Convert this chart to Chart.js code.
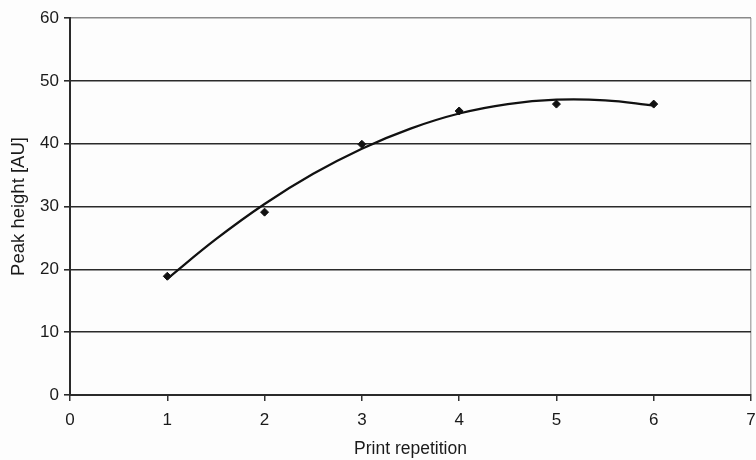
<!DOCTYPE html>
<html>
<head>
<meta charset="utf-8">
<script src="https://cdn.jsdelivr.net/npm/chart.js@4.4.1/dist/chart.umd.min.js"></script>
<style>
  html,body{margin:0;padding:0;background:#fdfdfd;}
  #wrap{width:756px;height:460px;}
</style>
</head>
<body>
<div id="wrap"><canvas id="chart" width="756" height="460"></canvas></div>
<script>
// --- Data ---
const repetitions = [1, 2, 3, 4, 5, 6];
const peakHeights = [18.9, 29.1, 39.9, 45.2, 46.3, 46.3];
// trend curve as traced on the picture
const trendX = [1, 1.5, 2, 2.5, 3, 3.5, 4, 4.5, 5, 5.5, 6];
const trendY = [18.5, 24.8, 30.4, 35.2, 39.2, 42.4, 44.8, 46.3, 47.0, 46.9, 46.1];
const xTicks = [0, 1, 2, 3, 4, 5, 6, 7];
const yTicks = [0, 10, 20, 30, 40, 50, 60];

const tickFont = {family:'"Liberation Sans", Arial, sans-serif', size:17};
const xTitleFont = {family:'"Liberation Sans", Arial, sans-serif', size:17.5};
const yTitleFont = {family:'"Liberation Sans", Arial, sans-serif', size:18.5};

// --- Chart ---
new Chart(document.getElementById('chart').getContext('2d'), {
  type:'scatter',
  data:{datasets:[
    {label:'Trend', data:trendX.map((x,i)=>({x:x,y:trendY[i]})),
     showLine:true, borderColor:'#111', borderWidth:2.3, pointRadius:0, tension:0.4, fill:false},
    {label:'Peak height', data:repetitions.map((x,i)=>({x:x,y:peakHeights[i]})),
     showLine:false, pointStyle:'rectRot', pointRadius:4, backgroundColor:'#111', borderColor:'#111', borderWidth:1}
  ]},
  options:{
    responsive:false, animation:false,
    layout:{padding:{top:18, right:0, left:0, bottom:0}},
    plugins:{legend:{display:false}, tooltip:{enabled:false}},
    scales:{
      x:{type:'linear', min:0, max:7,
        afterBuildTicks:s=>{s.ticks = xTicks.map(v=>({value:v}));},
        afterFit:s=>{s.height = 65; s.paddingRight = 4; s.paddingLeft = 0;},
        grid:{color:c=>c.tick && c.tick.value===7 ? '#b0b0b0' : 'rgba(0,0,0,0)', lineWidth:1.5, tickColor:'#333', tickLength:6},
        border:{color:'#2a2a2a', width:2},
        ticks:{color:'#1a1a1a', font:tickFont, padding:9},
        title:{display:true, text:'Print repetition', color:'#1a1a1a', font:xTitleFont, padding:{top:1,bottom:0}}
      },
      y:{min:0, max:60,
        afterBuildTicks:s=>{s.ticks = yTicks.map(v=>({value:v}));},
        afterFit:s=>{s.width = 70;},
        grid:{color:c=>c.tick && c.tick.value===60 ? '#8a8a8a' : '#2a2a2a', lineWidth:1.6, tickColor:'#2a2a2a', tickLength:6},
        border:{color:'#2a2a2a', width:2},
        ticks:{color:'#1a1a1a', font:tickFont, padding:5},
        title:{display:true, text:'Peak height [AU]', color:'#1a1a1a', font:yTitleFont, padding:{top:8,bottom:2}}
      }
    }
  }
});
</script>
</body>
</html>
